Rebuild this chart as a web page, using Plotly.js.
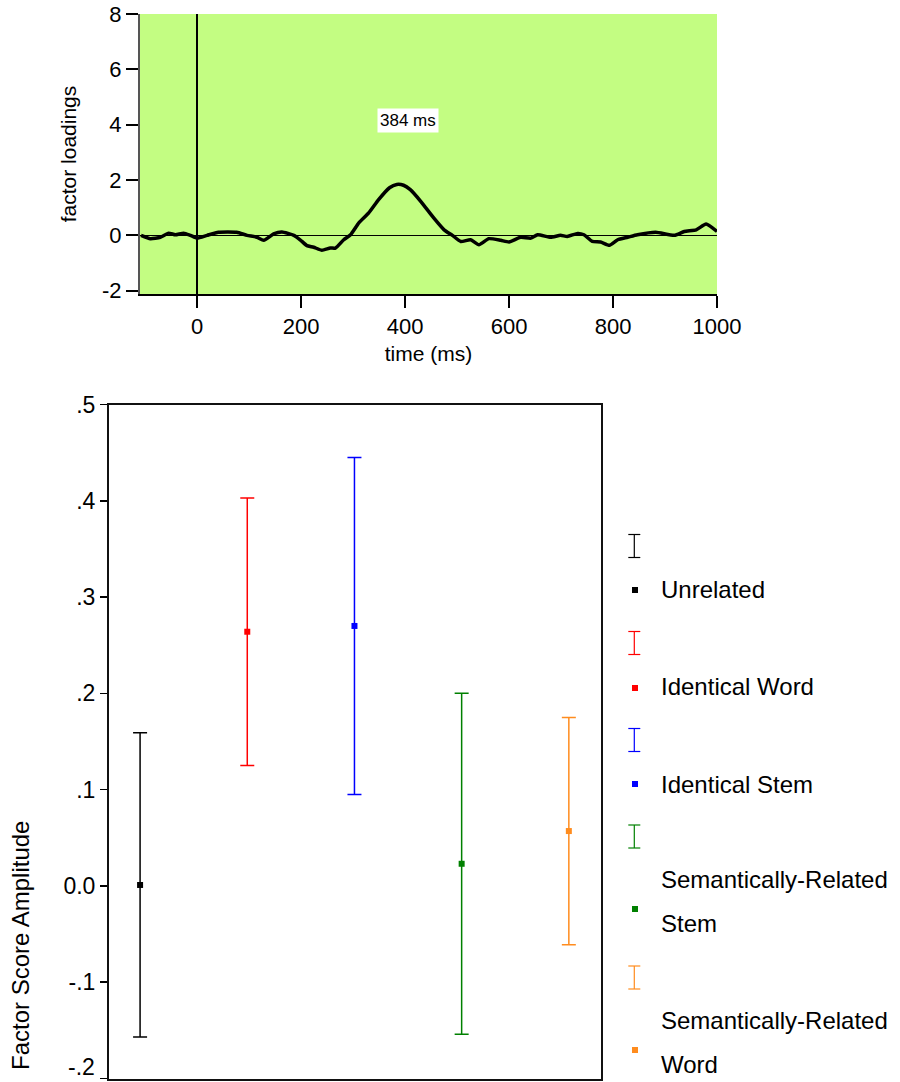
<!DOCTYPE html>
<html>
<head>
<meta charset="utf-8">
<script src="https://cdn.plot.ly/plotly-3.0.1.min.js"></script>
<style>html,body{margin:0;padding:0;background:#fff;}#chart{width:900px;height:1082px;}</style>
</head>
<body>
<div id="chart"></div>
<script>
// ---- Top panel data: factor loadings over time ----
const timeMs = [-108, -90, -71, -55, -42, -26, -13, 0, 19, 41, 76, 96, 115, 128, 147, 163, 186, 198, 211, 224, 240, 256, 266, 282, 295, 311, 330, 349, 370, 384, 397, 410, 430, 455, 475, 491, 507, 526, 542, 561, 584, 600, 622, 642, 655, 680, 699, 712, 732, 744, 760, 776, 793, 809, 828, 847, 882, 918, 937, 960, 979, 1000];
const loadings = [0, -0.12, -0.07, 0.08, 0.02, 0.08, 0, -0.1, 0, 0.11, 0.11, 0, -0.07, -0.18, 0.05, 0.12, 0, -0.16, -0.37, -0.43, -0.54, -0.46, -0.46, -0.16, 0.02, 0.45, 0.81, 1.29, 1.72, 1.84, 1.81, 1.65, 1.23, 0.63, 0.2, 0, -0.22, -0.16, -0.34, -0.12, -0.18, -0.24, -0.07, -0.1, 0.02, -0.07, 0, -0.04, 0.07, 0.02, -0.22, -0.24, -0.36, -0.16, -0.07, 0.02, 0.11, 0, 0.14, 0.2, 0.41, 0.14];
const peakLabel = '384 ms';
const peakTime = 405;
const peakLabelY = 4.15;
const topXTicks = [0, 200, 400, 600, 800, 1000];
const topYTicks = [-2, 0, 2, 4, 6, 8];
const topYTickText = ['-2', '0', '2', '4', '6', '8'];

// ---- Bottom panel data: factor score amplitude per condition ----
const conditions = ['Unrelated', 'Identical Word', 'Identical Stem', 'Semantically-Related Stem', 'Semantically-Related Word'];
const condIndex = [1, 2, 3, 4, 5];
const meanAmp = [0.001, 0.264, 0.270, 0.023, 0.057];
const errAmp = [0.158, 0.139, 0.175, 0.177, 0.118];
const bottomYTickVals = [-0.2, -0.1, 0, 0.1, 0.2, 0.3, 0.4, 0.5];
const bottomYTickText = ['-.2', '-.1', '0.0', '.1', '.2', '.3', '.4', '.5'];

const colors = ['#000000', '#ff0000', '#0000ff', '#008000', '#ff8c1e'];
const FONT = 'Arial, "Liberation Sans", sans-serif';
const W = 900, H = 1082;
const px = x => x / W;
const py = y => 1 - y / H;

const traces = [];
traces.push({
  x: timeMs, y: loadings, type: 'scatter', mode: 'lines',
  line: {color: '#000', width: 3.5, shape: 'spline', smoothing: 0.5},
  xaxis: 'x', yaxis: 'y', showlegend: false, hoverinfo: 'skip'
});
conditions.forEach((c, i) => {
  traces.push({
    x: [condIndex[i]], y: [meanAmp[i]], type: 'scatter', mode: 'markers', name: c,
    marker: {symbol: 'square', size: 6, color: colors[i]},
    error_y: {type: 'data', array: [errAmp[i]], visible: true, color: colors[i], thickness: 1.5, width: 7},
    xaxis: 'x2', yaxis: 'y2', showlegend: false
  });
});

const shapes = [];
const annotations = [];

// green background for top plot
shapes.push({type: 'rect', xref: 'x domain', yref: 'y domain', x0: 0, x1: 1, y0: 0, y1: 1,
  fillcolor: '#c3fd82', line: {width: 0}, layer: 'below'});

annotations.push({x: peakTime, y: peakLabelY, xref: 'x', yref: 'y', text: peakLabel, showarrow: false,
  bgcolor: '#ffffff', borderpad: 2, font: {family: FONT, size: 17, color: '#000'}});

// manual -.2 label (shifted up like the reference so it is not cut)
annotations.push({x: px(97), y: -0.2, xref: 'paper', yref: 'y2', text: '-.2', showarrow: false,
  xanchor: 'right', yanchor: 'middle', yshift: 12, font: {family: FONT, size: 23, color: '#000'}});

// bottom y-axis title
annotations.push({x: px(20), y: py(946), xref: 'paper', yref: 'paper', text: 'Factor Score Amplitude',
  textangle: -90, xanchor: 'center', yanchor: 'middle', showarrow: false,
  font: {family: FONT, size: 24, color: '#000'}});

// custom legend (error-bar glyph row, then marker + label row)
const glyphY = [546, 643, 740, 836.5, 977.5];
const markY = [590, 688, 784, 909, 1050];
const textRows = [[589.5], [686], [784], [879, 923.5], [1020, 1064]];
conditions.forEach((c, i) => {
  const gx = 634.3, gy = glyphY[i], hh = 11.5, cw = 6;
  const ln = {color: colors[i], width: 1.2};
  shapes.push({type: 'line', xref: 'paper', yref: 'paper', x0: px(gx), x1: px(gx), y0: py(gy - hh), y1: py(gy + hh), line: ln});
  shapes.push({type: 'line', xref: 'paper', yref: 'paper', x0: px(gx - cw), x1: px(gx + cw), y0: py(gy - hh), y1: py(gy - hh), line: ln});
  shapes.push({type: 'line', xref: 'paper', yref: 'paper', x0: px(gx - cw), x1: px(gx + cw), y0: py(gy + hh), y1: py(gy + hh), line: ln});
  shapes.push({type: 'rect', xref: 'paper', yref: 'paper', x0: px(632), x1: px(638), y0: py(markY[i] - 3), y1: py(markY[i] + 3),
    fillcolor: colors[i], line: {width: 0}});
  const parts = textRows[i].length === 2 ? [c.slice(0, c.lastIndexOf(' ')), c.slice(c.lastIndexOf(' ') + 1)] : [c];
  parts.forEach((p, k) => {
    annotations.push({x: px(659), y: py(textRows[i][k]), xref: 'paper', yref: 'paper', text: p, showarrow: false,
      xanchor: 'left', yanchor: 'middle', font: {family: FONT, size: 24, color: '#000'}});
  });
});

const layout = {
  width: W, height: H,
  margin: {l: 0, r: 0, t: 0, b: 0},
  paper_bgcolor: '#ffffff', plot_bgcolor: 'rgba(0,0,0,0)',
  font: {family: FONT, color: '#000'},
  showlegend: false,
  xaxis: {
    domain: [px(140), px(717)], range: [-110, 1000], anchor: 'y',
    tickvals: topXTicks, ticks: 'outside', ticklen: 12, tickwidth: 2, tickcolor: '#000',
    showline: true, linecolor: '#000', linewidth: 2, showgrid: false,
    zeroline: true, zerolinecolor: '#000', zerolinewidth: 1.5,
    tickfont: {family: FONT, size: 22, color: '#000'},
    title: {text: 'time (ms)', font: {family: FONT, size: 21, color: '#000'}, standoff: 8}
  },
  yaxis: {
    domain: [py(294), py(14)], range: [-2.12, 8], anchor: 'x',
    tickvals: topYTicks, ticktext: topYTickText, ticks: 'outside', ticklen: 12, tickwidth: 2, tickcolor: '#000',
    showline: true, linecolor: '#555', linewidth: 2, showgrid: false,
    zeroline: true, zerolinecolor: '#000', zerolinewidth: 1.5,
    tickfont: {family: FONT, size: 22, color: '#000'},
    title: {text: 'factor loadings', font: {family: FONT, size: 21, color: '#000'}, standoff: 20}
  },
  xaxis2: {
    domain: [px(109), px(601)], range: [0.71, 5.3], anchor: 'y2',
    showticklabels: false, ticks: '', showgrid: false, zeroline: false,
    showline: true, mirror: true, linecolor: '#111', linewidth: 2
  },
  yaxis2: {
    domain: [py(1078.5), py(404.5)], range: [-0.2, 0.5], anchor: 'x2',
    tickvals: bottomYTickVals, ticktext: bottomYTickText.map(t => t === '-.2' ? '' : t),
    ticks: 'outside', ticklen: 7, tickwidth: 1.5, tickcolor: '#000',
    showline: true, mirror: true, linecolor: '#111', linewidth: 2,
    showgrid: false, zeroline: false,
    tickfont: {family: FONT, size: 23, color: '#000'}
  },
  shapes: shapes,
  annotations: annotations
};

Plotly.newPlot('chart', traces, layout, {displayModeBar: false, staticPlot: true});
</script>
</body>
</html>
